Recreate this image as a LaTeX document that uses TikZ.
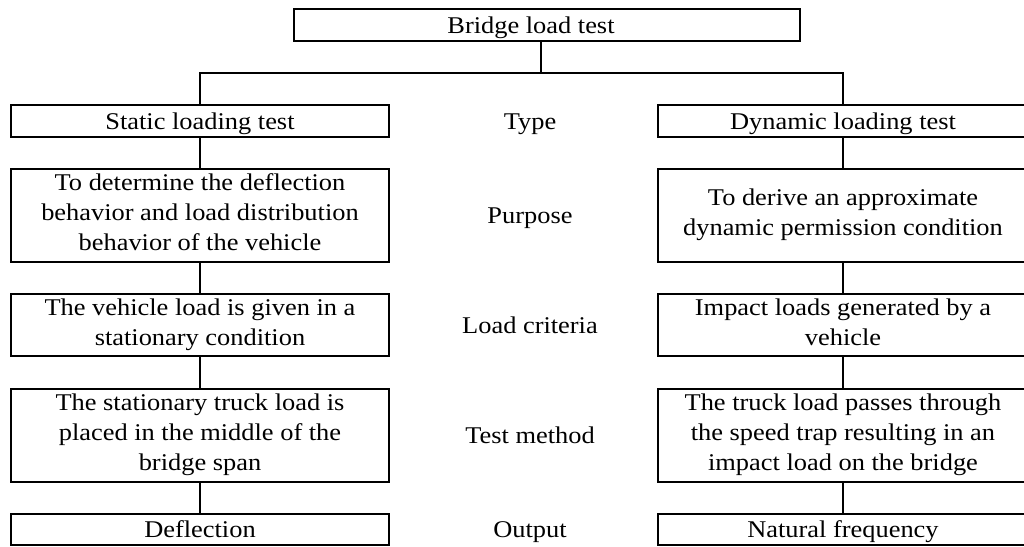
\documentclass[tikz,border=0pt]{standalone}
\usepackage{fontspec}
\setmainfont{Liberation Serif}[FakeStretch=1.1]
\newcommand{\mystrut}{\rule[-6pt]{0pt}{28pt}}
\begin{document}
\begin{tikzpicture}[x=1pt,y=-1pt,
  txt/.style={font=\fontsize{24}{30}\selectfont, execute at begin node=\mystrut, execute at end node=\mystrut},
  box/.style={txt, draw, line width=2pt, rectangle, inner sep=0pt, align=center},
  lbox/.style={box, minimum width=378pt},
  rbox/.style={box, minimum width=370pt},
  lab/.style={txt, inner sep=0pt, align=center},
  conn/.style={line width=2pt}]
\useasboundingbox (0,0) rectangle (1024,546);
% top
\node[box, minimum width=506pt, minimum height=32pt] (top) at (547,25) {Bridge load test\hspace{32pt}};
% left column
\node[lbox, minimum height=32pt] (s1) at (200,121) {Static loading test};
\node[lbox, minimum height=93pt] (s2) at (200,215.5) {To determine the deflection\\behavior and load distribution\\behavior of the vehicle};
\node[lbox, minimum height=62pt] (s3) at (200,325) {The vehicle load is given in a\\stationary condition};
\node[lbox, minimum height=93pt] (s4) at (200,435.5) {The stationary truck load is\\placed in the middle of the\\bridge span};
\node[lbox, minimum height=31pt] (s5) at (200,529.5) {Deflection};
% right column
\node[rbox, minimum height=32pt] (d1) at (843,121) {Dynamic loading test};
\node[rbox, minimum height=93pt] (d2) at (843,215.5) {To derive an approximate\\dynamic permission condition};
\node[rbox, minimum height=62pt] (d3) at (843,325) {Impact loads generated by a\\vehicle};
\node[rbox, minimum height=93pt] (d4) at (843,435.5) {The truck load passes through\\the speed trap resulting in an\\impact load on the bridge};
\node[rbox, minimum height=31pt] (d5) at (843,529.5) {Natural frequency};
% middle labels
\node[lab] (m1) at (530,121) {Type};
\node[lab] (m2) at (530,215.5) {Purpose};
\node[lab] (m3) at (530,325) {Load criteria};
\node[lab] (m4) at (530,435.5) {Test method};
\node[lab] (m5) at (530,529.5) {Output};
% connectors
\coordinate (j) at (541,73);
\draw[conn] (top.south -| j) -- (j);
\draw[conn] (s1.north) |- (j) -| (d1.north);
\foreach \a/\b in {s1/s2,s2/s3,s3/s4,s4/s5,d1/d2,d2/d3,d3/d4,d4/d5}
  \draw[conn] (\a.south) -- (\b.north);
\end{tikzpicture}
\end{document}
